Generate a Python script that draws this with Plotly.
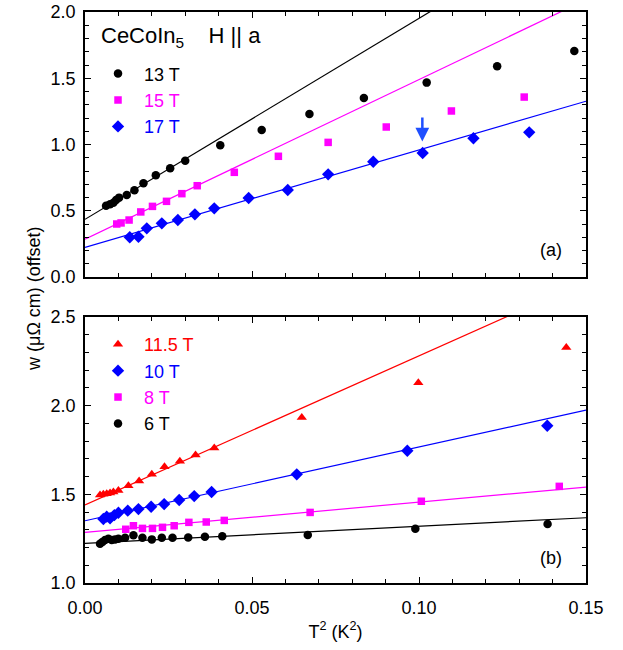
import plotly.graph_objects as go
from plotly.subplots import make_subplots

# ---------------- data: panel (a) ----------------
x13 = [0.0063, 0.0075, 0.0085, 0.0093, 0.0102, 0.0125, 0.0148, 0.0175, 0.0212, 0.0255, 0.0300,
       0.0405, 0.0529, 0.0672, 0.0835, 0.1023, 0.1234, 0.1465]
y13 = [0.538, 0.549, 0.561, 0.581, 0.599, 0.619, 0.654, 0.707, 0.768, 0.820, 0.878,
       0.994, 1.109, 1.230, 1.351, 1.467, 1.590, 1.706]
x15 = [0.0095, 0.0108, 0.0132, 0.0167, 0.0202, 0.0244, 0.0290, 0.0336, 0.0447, 0.0579, 0.0728,
       0.0902, 0.1097, 0.1315]
y15 = [0.400, 0.408, 0.430, 0.491, 0.533, 0.571, 0.629, 0.689, 0.790, 0.911, 1.016,
       1.132, 1.253, 1.358]
x17 = [0.0134, 0.0160, 0.0185, 0.0230, 0.0278, 0.0329, 0.0387, 0.0490, 0.0607, 0.0728, 0.0863,
       0.1011, 0.1163, 0.1330]
y17 = [0.300, 0.304, 0.367, 0.405, 0.430, 0.473, 0.518, 0.596, 0.657, 0.775, 0.870,
       0.936, 1.047, 1.092]
fit13 = (0.435, 15.17)
fit15 = (0.285, 12.05)
fit17 = (0.224, 7.35)

# ---------------- data: panel (b) ----------------
x115 = [0.0045, 0.0055, 0.0065, 0.0075, 0.0085, 0.0100, 0.0130, 0.0162, 0.0200, 0.0238, 0.0284,
        0.0331, 0.0387, 0.0649, 0.0998, 0.1441]
y115 = [1.496, 1.500, 1.504, 1.508, 1.513, 1.522, 1.549, 1.575, 1.614, 1.656, 1.686,
        1.722, 1.761, 1.934, 2.129, 2.328]
x10 = [0.0055, 0.0065, 0.0075, 0.0088, 0.0100, 0.0128, 0.0160, 0.0198, 0.0237, 0.0282, 0.0327,
       0.0379, 0.0634, 0.0965, 0.1384]
y10 = [1.361, 1.374, 1.365, 1.383, 1.396, 1.408, 1.417, 1.430, 1.445, 1.468, 1.490,
       1.513, 1.613, 1.746, 1.887]
x8 = [0.0122, 0.0145, 0.0172, 0.0202, 0.0232, 0.0267, 0.0311, 0.0363, 0.0417, 0.0674, 0.1007, 0.1420]
y8 = [1.303, 1.323, 1.308, 1.308, 1.314, 1.323, 1.342, 1.344, 1.353, 1.398, 1.461, 1.545]
x6 = [0.0045, 0.0052, 0.0060, 0.0070, 0.0080, 0.0090, 0.0100, 0.0120, 0.0145, 0.0172, 0.0200,
      0.0230, 0.0262, 0.0309, 0.0359, 0.0411, 0.0667, 0.0989, 0.1385]
y6 = [1.222, 1.231, 1.242, 1.250, 1.242, 1.246, 1.250, 1.255, 1.269, 1.255, 1.246,
      1.255, 1.255, 1.257, 1.261, 1.263, 1.271, 1.306, 1.333]
fit115 = (1.440, 8.41)
fit10 = (1.351, 4.16)
fit8 = (1.286, 1.70)
fit6 = (1.224, 0.96)

x_range = [0.0, 0.15]
arrow_x, arrow_tip_y, arrow_tail_y = 0.101, 1.022, 1.215

BLACK, MAGENTA, BLUE, RED = "#000000", "#ff00ff", "#0000ff", "#ff0000"
FONT = "Liberation Sans, Arial, Helvetica, sans-serif"

fig = make_subplots(rows=2, cols=1, shared_xaxes=False, vertical_spacing=0.07)


def fit_line(fit):
    a, b = fit
    return x_range, [a + b * x for x in x_range]


def add_series(row, xs, ys, fit, color, symbol, size, name, legend):
    lx, ly = fit_line(fit)
    fig.add_trace(go.Scatter(x=lx, y=ly, mode="lines", line=dict(color=color, width=1.2),
                             showlegend=False, hoverinfo="skip"), row=row, col=1)
    fig.add_trace(go.Scatter(x=xs, y=ys, mode="markers",
                             marker=dict(color=color, symbol=symbol, size=size, line=dict(width=0)),
                             name=f'<span style="color:{color}">{name}</span>',
                             legend=legend), row=row, col=1)


add_series(1, x13, y13, fit13, BLACK, "circle", 8.5, "13 T", "legend")
add_series(1, x15, y15, fit15, MAGENTA, "square", 7.5, "15 T", "legend")
add_series(1, x17, y17, fit17, BLUE, "diamond", 9.5, "17 T", "legend")

add_series(2, x115, y115, fit115, RED, "triangle-up", 9, "11.5 T", "legend2")
add_series(2, x10, y10, fit10, BLUE, "diamond", 9.5, "10 T", "legend2")
add_series(2, x8, y8, fit8, MAGENTA, "square", 7.5, "8 T", "legend2")
add_series(2, x6, y6, fit6, BLACK, "circle", 8.5, "6 T", "legend2")

axis_common = dict(showline=True, linecolor="black", linewidth=1.5, mirror="allticks",
                   ticks="inside", ticklen=6, tickwidth=1, tickcolor="black",
                   showgrid=False, zeroline=False, automargin=False,
                   ticklabeloverflow="allow",
                   tickfont=dict(family=FONT, size=18, color="black"),
                   minor=dict(ticks="inside", ticklen=4, tickwidth=1, tickcolor="black", showgrid=False))

fig.update_xaxes(**axis_common, range=x_range, dtick=0.05, tickformat=".2f", ticklabelstandoff=8)
fig.update_xaxes(minor_dtick=0.01)
fig.update_xaxes(showticklabels=False, row=1, col=1)
fig.update_xaxes(title=dict(text="T<sup>2</sup> (K<sup>2</sup>)", font=dict(family=FONT, size=18, color="black"),
                            standoff=8), row=2, col=1)

fig.update_yaxes(**axis_common, dtick=0.5, tickformat=".1f", ticklabelstandoff=4)
fig.update_yaxes(minor_dtick=0.1)
fig.update_yaxes(range=[0, 2.0], domain=[0.5359, 1.0], row=1, col=1)
fig.update_yaxes(range=[1.0, 2.5], domain=[0.0, 0.4658], row=2, col=1)
fig.update_xaxes(domain=[0, 1])

legend_common = dict(bgcolor="rgba(0,0,0,0)", borderwidth=0, xanchor="left", yanchor="top",
                     font=dict(family=FONT, size=18, color="black"), itemsizing="trace",
                     itemwidth=42, tracegroupgap=0)

fig.update_layout(
    width=623, height=650,
    margin=dict(l=85, r=37, t=12, b=67, autoexpand=False),
    paper_bgcolor="white", plot_bgcolor="white",
    font=dict(family=FONT, size=18, color="black"),
    legend=dict(**legend_common, x=0.014, y=0.924),
    legend2=dict(**legend_common, x=0.014, y=0.45),
    annotations=[
        dict(text="CeCoIn<sub>5</sub>\u00a0\u00a0\u00a0\u00a0H || a", xref="paper", yref="paper",
             x=0.028, y=0.956, xanchor="left", yanchor="middle", showarrow=False,
             font=dict(family=FONT, size=22, color="black")),
        dict(text="(a)", xref="paper", yref="paper", x=0.93, y=0.583, xanchor="center", yanchor="middle",
             showarrow=False, font=dict(family=FONT, size=18, color="black")),
        dict(text="(b)", xref="paper", yref="paper", x=0.93, y=0.044, xanchor="center", yanchor="middle",
             showarrow=False, font=dict(family=FONT, size=18, color="black")),
        dict(text="w (\u03bc\u03a9 cm) (offset)", xref="paper", yref="paper", x=-0.102, y=0.499,
             textangle=-90, xanchor="center", yanchor="middle", showarrow=False,
             font=dict(family=FONT, size=18, color="black")),
        dict(text="", x=arrow_x, y=arrow_tip_y, ax=arrow_x, ay=arrow_tail_y, xref="x", yref="y",
             axref="x", ayref="y", showarrow=True, arrowhead=2, arrowsize=1.1, arrowwidth=2.5,
             arrowcolor="#1f4fff"),
    ],
)

# remove the default 8px page margin so the figure fills the window exactly
fig.write_html("out.html", config={"displayModeBar": False},
               post_script="document.body.style.margin='0';")
